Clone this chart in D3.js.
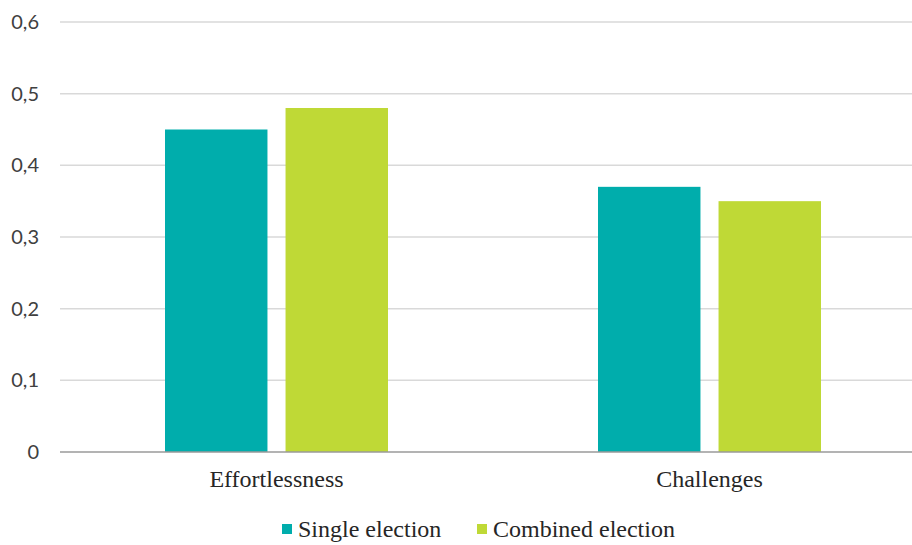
<!DOCTYPE html>
<html>
<head>
<meta charset="utf-8">
<script src="https://cdn.jsdelivr.net/npm/d3@7"></script>
<style>
  html, body { margin: 0; padding: 0; background: #fff; }
  svg { display: block; }
</style>
</head>
<body>
<svg id="chart" width="912" height="545"></svg>
<script>
// Categories, series and tick values
const categories = ["Effortlessness", "Challenges"];
const seriesNames = ["Single election", "Combined election"];
const singleValues = [0.45, 0.37];
const combinedValues = [0.48, 0.35];
const yTicks = [0, 0.1, 0.2, 0.3, 0.4, 0.5, 0.6];
const colors = ["#00ADAC", "#BFD936"];

const SERIF = '"Liberation Serif"';
const SANS = '"Lato"';

const rows = categories.map((c, i) => ({
  category: c,
  values: [singleValues[i], combinedValues[i]]
}));

const svg = d3.select("#chart");
const margin = { left: 60, right: -14, top: 22, bottom: 93 };
const width = 912 - margin.left - margin.right;
const height = 545 - margin.top - margin.bottom;

const g = svg.append("g").attr("transform", `translate(${margin.left},${margin.top})`);

const x0 = d3.scaleBand().domain(categories).range([0, width]).paddingInner(0).paddingOuter(0);
const x1 = d3.scaleBand().domain(seriesNames).range([105, x0.bandwidth() - 105]).paddingInner(0.15).paddingOuter(0);
const y = d3.scaleLinear().domain([0, 0.6]).range([height, 0]);

// Horizontal gridlines
g.append("g")
  .selectAll("line")
  .data(yTicks.filter(t => t > 0))
  .join("line")
  .attr("x1", 0).attr("x2", width)
  .attr("y1", d => y(d)).attr("y2", d => y(d))
  .attr("stroke", "#d9d9d9")
  .attr("stroke-width", 1.5);

// Y axis labels
const fmt = d => d === 0 ? "0" : d3.format(".1f")(d).replace(".", ",");
g.append("g")
  .selectAll("text")
  .data(yTicks)
  .join("text")
  .attr("x", -21)
  .attr("y", d => y(d))
  .attr("dy", "0.35em")
  .attr("text-anchor", "end")
  .style("font-family", SANS)
  .style("font-size", "20px")
  .attr("fill", "#404040")
  .text(fmt);

// Bars
const groups = g.append("g")
  .selectAll("g")
  .data(rows)
  .join("g")
  .attr("transform", d => `translate(${x0(d.category)},0)`);

groups.selectAll("rect")
  .data(d => d.values.map((v, i) => ({ name: seriesNames[i], value: v, i })))
  .join("rect")
  .attr("x", d => x1(d.name))
  .attr("width", x1.bandwidth())
  .attr("y", d => y(d.value))
  .attr("height", d => y(0) - y(d.value))
  .attr("fill", d => colors[d.i]);

// Baseline
g.append("line")
  .attr("x1", 0).attr("x2", width)
  .attr("y1", y(0)).attr("y2", y(0))
  .attr("stroke", "#9a9a9a")
  .attr("stroke-width", 1.5);

// Category labels
g.append("g")
  .selectAll("text")
  .data(categories)
  .join("text")
  .attr("x", d => x0(d) + x0.bandwidth() / 2)
  .attr("y", height + 35)
  .attr("text-anchor", "middle")
  .style("font-family", SERIF)
  .style("font-size", "24px")
  .attr("fill", "#262626")
  .text(d => d);

// Legend
const legend = svg.append("g").attr("transform", "translate(282,537)");
const legendX = [0, 195];
seriesNames.forEach((name, i) => {
  const item = legend.append("g").attr("transform", `translate(${legendX[i]},0)`);
  item.append("rect")
    .attr("x", 0).attr("y", -13)
    .attr("width", 10).attr("height", 10)
    .attr("fill", colors[i]);
  item.append("text")
    .attr("x", 16).attr("y", 0)
    .style("font-family", SERIF)
    .style("font-size", "24px")
    .attr("fill", "#262626")
    .text(name);
});
</script>
</body>
</html>
